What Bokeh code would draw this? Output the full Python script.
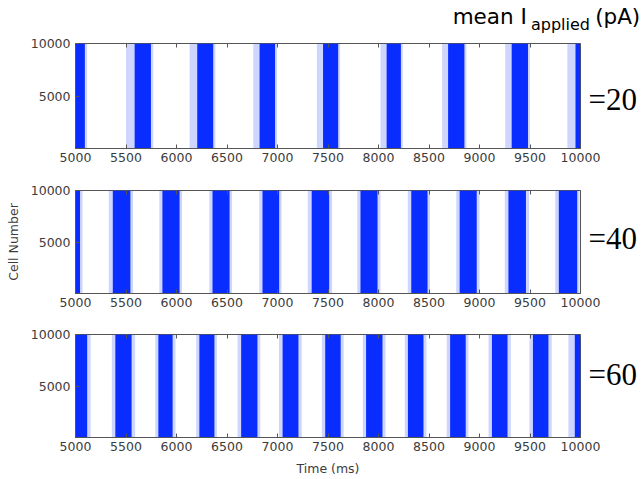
from bokeh.plotting import figure
from bokeh.layouts import column
from bokeh.models import FixedTicker, Range1d, LinearAxis, CustomLabelingPolicy
from bokeh.embed import file_html
from bokeh.resources import INLINE

# ---------------- data ----------------
x_ticks = [5000, 5500, 6000, 6500, 7000, 7500, 8000, 8500, 9000, 9500, 10000]
y_ticks = [5000, 10000]
current_labels = ["=20", "=40", "=60"]
title_main = "mean I" + "\u00a0" * 10 + "(pA)"
title_sub = "applied"
n_cells = 10000

# mean I_applied = 20 pA : spike bands (ms)
p20_dense_start = [5000, 5585, 6205, 6822, 7451, 8080, 8689, 9318, 9950]
p20_dense_end = [5093, 5747, 6364, 6976, 7601, 8222, 8851, 9480, 10000]
p20_fringe_start = [5000, 5500, 6130, 6760, 7390, 8020, 8630, 9255, 9870]
p20_fringe_end = [5115, 5770, 6385, 6995, 7620, 8240, 8870, 9500, 10000]

# mean I_applied = 40 pA
p40_dense_start = [5000, 5369, 5860, 6356, 6851, 7338, 7821, 8324, 8803, 9286, 9785]
p40_dense_end = [5045, 5544, 6031, 6526, 7017, 7512, 7991, 8486, 8973, 9460, 9968]
p40_fringe_start = [5000, 5330, 5830, 6325, 6820, 7300, 7790, 8290, 8770, 9250, 9750]
p40_fringe_end = [5070, 5570, 6055, 6550, 7040, 7540, 8020, 8510, 9000, 9490, 9990]

# mean I_applied = 60 pA
p60_dense_start = [5000, 5394, 5820, 6226, 6640, 7050, 7472, 7877, 8291, 8709, 9123, 9529, 9943]
p60_dense_end = [5116, 5556, 5962, 6376, 6802, 7208, 7626, 8040, 8446, 8864, 9278, 9683, 10000]
p60_fringe_start = [5000, 5360, 5790, 6195, 6605, 7015, 7440, 7845, 8260, 8675, 9090, 9495, 9880]
p60_fringe_end = [5150, 5590, 5990, 6400, 6830, 7240, 7655, 8070, 8475, 8890, 9310, 9715, 10000]

panels = [
    (p20_dense_start, p20_dense_end, p20_fringe_start, p20_fringe_end),
    (p40_dense_start, p40_dense_end, p40_fringe_start, p40_fringe_end),
    (p60_dense_start, p60_dense_end, p60_fringe_start, p60_fringe_end),
]

BLUE = "#0a2dff"
TICK_COLOR = "#3c3c3c"
FRAME_COLOR = "#555555"
FONT = "DejaVu Sans"

heights = [172, 146, 161]
tops = [43, 18, 16]
bottoms = [24, 25, 42]
label_y = [4700, 5300, 6100]

no_labels = CustomLabelingPolicy(code="for (const i of indices) { indices.unset(i) }\nreturn indices")

figs = []
for i, (ds, de, fs, fe) in enumerate(panels):
    p = figure(width=643, height=heights[i], output_backend="svg", toolbar_location=None,
               x_range=Range1d(5000, 10000), y_range=Range1d(0, n_cells),
               min_border_left=75, min_border_right=63,
               min_border_top=tops[i], min_border_bottom=bottoms[i])
    p.xgrid.visible = False
    p.ygrid.visible = False
    p.outline_line_color = FRAME_COLOR
    p.outline_line_width = 1

    # dense spike bands and their sparse fringes
    p.quad(left=ds, right=de, bottom=0, top=n_cells, fill_color=BLUE, line_color=None)
    p.quad(left=fs, right=ds, bottom=0, top=n_cells, fill_color=BLUE, fill_alpha=0.2, line_color=None)
    p.quad(left=de, right=fe, bottom=0, top=n_cells, fill_color=BLUE, fill_alpha=0.2, line_color=None)

    xax = p.xaxis[0]
    yax = p.yaxis[0]
    for ax in (xax, yax):
        ax.major_tick_in = 4
        ax.major_tick_out = 0
        ax.minor_tick_in = 0
        ax.minor_tick_out = 0
        ax.major_tick_line_color = FRAME_COLOR
        ax.axis_line_color = FRAME_COLOR
        ax.major_label_text_color = TICK_COLOR
        ax.major_label_text_font = FONT
        ax.major_label_text_font_size = "12.5px"
    xax.ticker = FixedTicker(ticks=x_ticks)
    yax.ticker = FixedTicker(ticks=y_ticks)
    xax.major_label_standoff = 4
    yax.major_label_standoff = 5

    if i == 1:
        yax.axis_label = "Cell Number"
        yax.axis_label_text_font = FONT
        yax.axis_label_text_font_size = "12.5px"
        yax.axis_label_text_font_style = "normal"
        yax.axis_label_text_color = TICK_COLOR
        yax.axis_label_standoff = 7
    if i == 2:
        xax.axis_label = "Time (ms)"
        xax.axis_label_text_font = FONT
        xax.axis_label_text_font_size = "12.5px"
        xax.axis_label_text_font_style = "normal"
        xax.axis_label_text_color = TICK_COLOR
        xax.axis_label_standoff = 7

    # inward ticks on the top edge (box style), no labels
    top_ax = LinearAxis(ticker=FixedTicker(ticks=x_ticks), major_tick_in=4, major_tick_out=0,
                        minor_tick_in=0, minor_tick_out=0, major_label_policy=no_labels,
                        major_label_text_font_size="1px",
                        major_label_standoff=0, axis_line_color=None,
                        major_tick_line_color=FRAME_COLOR)
    p.add_layout(top_ax, "above")

    # right axis carrying the current value as a horizontal tick label
    right_ax = LinearAxis(ticker=FixedTicker(ticks=[label_y[i]]),
                          major_label_overrides={label_y[i]: current_labels[i]},
                          major_tick_in=0, major_tick_out=0, minor_tick_in=0, minor_tick_out=0,
                          major_label_standoff=8, axis_line_color=None,
                          major_label_text_font="Liberation Serif",
                          major_label_text_font_size="31px", major_label_text_color="black")
    p.add_layout(right_ax, "right")
    figs.append(p)

# title "mean I_applied (pA)" built from two label-only axes above the first panel
f1 = figs[0]
sub_pos = 9802
main_pos = 9663
sub_ax = LinearAxis(ticker=FixedTicker(ticks=[sub_pos]), major_label_overrides={sub_pos: title_sub},
                    major_tick_in=0, major_tick_out=0, minor_tick_in=0, minor_tick_out=0,
                    major_label_standoff=6, axis_line_color=None,
                    major_label_text_font=FONT, major_label_text_font_size="16px",
                    major_label_text_color="black")
f1.add_layout(sub_ax, "above")
main_ax = LinearAxis(ticker=FixedTicker(ticks=[main_pos]), major_label_overrides={main_pos: title_main},
                     major_tick_in=0, major_tick_out=0, minor_tick_in=0, minor_tick_out=0,
                     major_label_standoff=-17, axis_line_color=None,
                     major_label_text_font=FONT, major_label_text_font_size="21.5px",
                     major_label_text_color="black")
f1.add_layout(main_ax, "above")

layout = column(*figs, spacing=0)
open("out.html", "w").write(file_html(layout, INLINE))
